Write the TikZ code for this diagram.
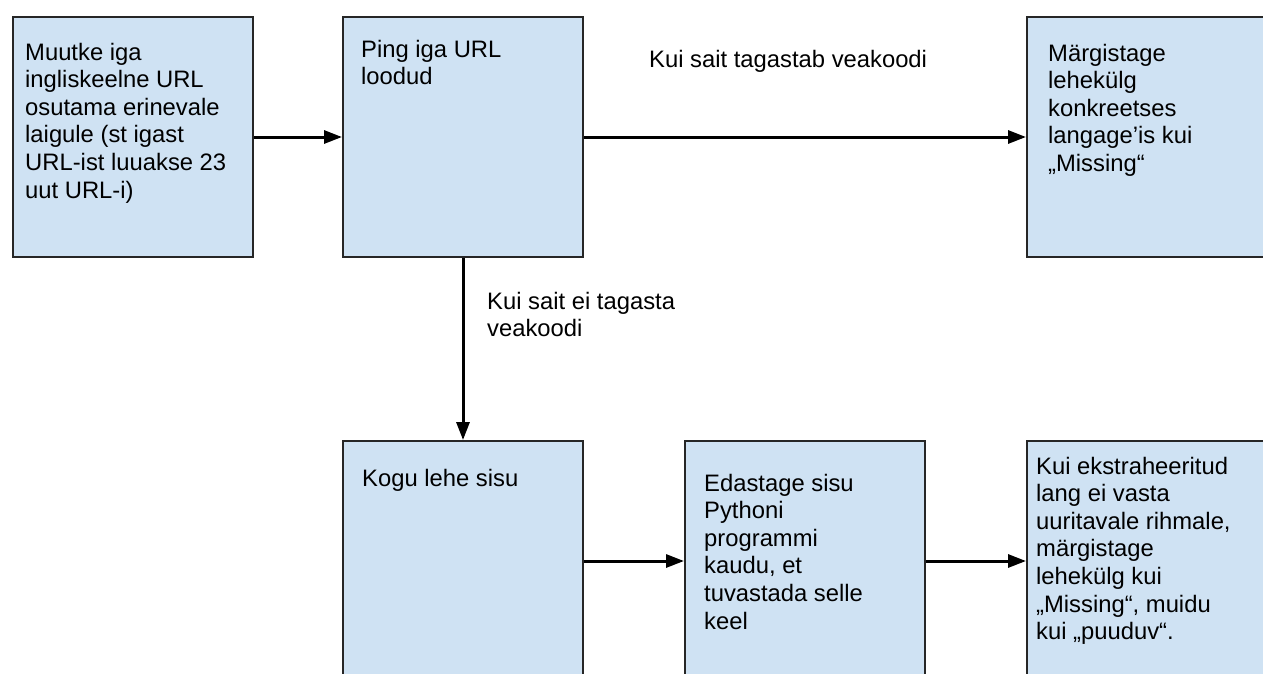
\documentclass[tikz,border=0pt]{standalone}
\usepackage{fontspec}
\setmainfont{Liberation Sans}
\usetikzlibrary{arrows.meta}
\definecolor{boxblue}{HTML}{CFE2F3}
\definecolor{boxline}{HTML}{262626}
% lines of a box, aligned on the baseline of the first line
\newcommand{\steplines}[1]{\begin{tabular}[t]{@{}l@{}}#1\end{tabular}}
\tikzset{
  stepbox/.style={draw=boxline, line width=2pt, fill=boxblue, minimum width=240pt,
    minimum height=240pt, anchor=north west, inner sep=0pt},
  boxtext/.style={anchor=base west, inner sep=0pt,
    font=\fontsize{23.8}{27.6}\selectfont},
  flow/.style={line width=3pt, -{Triangle[length=18pt,width=13pt]}},
}
\begin{document}
\begin{tikzpicture}[x=1pt, y=-1pt]
\useasboundingbox (0,0) rectangle (1263,673);
\clip (0,0) rectangle (1263,673);
% top row
\node[stepbox] (convert) at (12,16) {};
\node[boxtext] (convertT) at (25,60) {\steplines{Muutke iga\\ingliskeelne URL\\osutama erinevale\\laigule (st igast\\URL-ist luuakse 23\\uut URL-i)}};
\node[stepbox] (ping) at (342,16) {};
\node[boxtext] (pingT) at (361,57) {\steplines{Ping iga URL\\loodud}};
\node[stepbox] (mark) at (1026,16) {};
\node[boxtext] (markT) at (1048,61) {\steplines{Märgistage\\lehekülg\\konkreetses\\langage’is kui\\„Missing“}};
% bottom row
\node[stepbox] (fetch) at (342,440) {};
\node[boxtext] (fetchT) at (362,486) {Kogu lehe sisu};
\node[stepbox] (detect) at (684,440) {};
\node[boxtext] (detectT) at (704,491) {\steplines{Edastage sisu\\Pythoni\\programmi\\kaudu, et\\tuvastada selle\\keel}};
\node[stepbox] (compare) at (1026,440) {};
\node[boxtext] (compareT) at (1036,474) {\steplines{Kui ekstraheeritud\\lang ei vasta\\uuritavale rihmale,\\märgistage\\lehekülg kui\\„Missing“, muidu\\kui „puuduv“.}};
% labels
\node[boxtext] (errLbl) at (649,67) {Kui sait tagastab veakoodi};
\node[boxtext] (okLbl) at (487,309) {\steplines{Kui sait ei tagasta\\veakoodi}};
% connectors
\draw[flow] (convert) -- (ping);
\draw[flow] (ping) -- (mark);
\draw[flow] (ping) -- (fetch);
\draw[flow] (fetch) -- (detect);
\draw[flow] (detect) -- (compare);
\end{tikzpicture}
\end{document}
